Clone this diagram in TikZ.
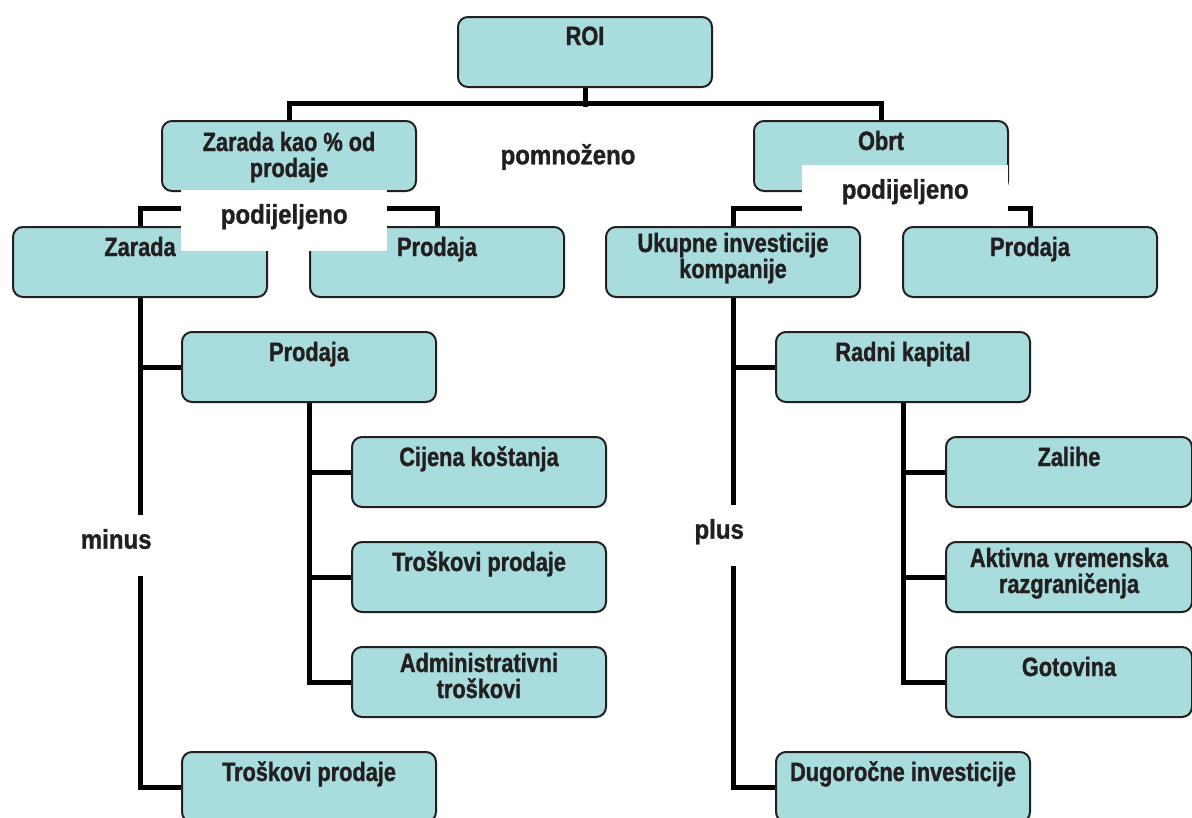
\documentclass[tikz,border=0pt]{standalone}
\usepackage{fontspec}
\setmainfont{Liberation Sans}[FakeStretch=0.82,FakeBold=1.2]
\newfontfamily\opfont{Liberation Sans}[FakeStretch=0.89,FakeBold=1.2]
\pgfdeclarelayer{bg}
\pgfsetlayers{bg,main}
\definecolor{boxfill}{RGB}{169,221,221}
\definecolor{boxline}{RGB}{35,31,32}
\definecolor{txt}{RGB}{35,31,32}
\newcommand{\boxtxt}[3][254pt]{\parbox[t][70pt][t]{#1}{\centering\rule{0pt}{#2}#3}}
\begin{document}
\begin{tikzpicture}[x=1pt,y=-1pt,
  lblfont/.style={font=\bfseries\fontsize{26.5}{26}\selectfont},
  opfnt/.style={font=\opfont\bfseries\fontsize{27}{27}\selectfont},
  box/.style={draw=boxline, fill=boxfill, line width=2pt, rounded corners=10pt,
    inner sep=0pt, anchor=north west, text=txt, lblfont},
  conn/.style={draw=black, line width=5pt},
  op/.style={fill=white, inner sep=0pt, text=txt, opfnt, text height=17pt,
    text depth=11pt, minimum height=61pt, anchor=north west},
  plain/.style={inner sep=0pt, text=txt, opfnt}]
\useasboundingbox (0,0) rectangle (1192,817);
\clip (0,0) rectangle (1192,817);

% boxes
\node[box] (roi) at (457,16) {\boxtxt{28pt}{ROI}};
\node[box] (zk) at (161,120) {\boxtxt{30pt}{Zarada kao \% od\\prodaje}};
\node[box] (obrt) at (753,120) {\boxtxt{29pt}{Obrt}};
\node[box] (zarada) at (12,226) {\boxtxt{29pt}{Zarada}};
\node[box] (prod2) at (309,226) {\boxtxt{29pt}{Prodaja}};
\node[box] (ukupne) at (605,226) {\boxtxt{25pt}{Ukupne investicije\\kompanije}};
\node[box] (prod2r) at (902,226) {\boxtxt{29pt}{Prodaja}};
\node[box] (prod3) at (181,331) {\boxtxt{29pt}{Prodaja}};
\node[box] (radni) at (775,331) {\boxtxt{29pt}{Radni kapital}};
\node[box] (cijena) at (351,436) {\boxtxt{29pt}{Cijena koštanja}};
\node[box] (trosk1) at (351,541) {\boxtxt{29pt}{Troškovi prodaje}};
\node[box] (admin) at (351,646) {\boxtxt{25pt}{Administrativni\\troškovi}};
\node[box] (zalihe) at (945,436) {\boxtxt[246pt]{29pt}{Zalihe}};
\node[box] (aktivna) at (945,541) {\boxtxt[246pt]{25pt}{Aktivna vremenska\\razgraničenja}};
\node[box] (gotovina) at (945,646) {\boxtxt[246pt]{29pt}{Gotovina}};
\node[box] (trosk2) at (181,751) {\boxtxt{29pt}{Troškovi prodaje}};
\node[box] (dugo) at (775,751) {\boxtxt{29pt}{Dugoročne investicije}};

% connectors
\begin{pgfonlayer}{bg}
\fill[white] (0,0) rectangle (1192,817);
\draw[conn] (roi.south) -- ++(0,19);
\draw[conn] (zk.north) -- ++(0,-17) -| (obrt.north);
\draw[conn] (zk.south) -- ++(0,18);
\draw[conn] (zarada.north) -- ++(0,-18) -| (prod2.north);
\draw[conn] (obrt.south) -- ++(0,18);
\draw[conn] (ukupne.north) -- ++(0,-18) -| (prod2r.north);
\draw[conn] (zarada.south) |- (prod3.west);
\draw[conn] (zarada.south) |- (trosk2.west);
\draw[conn] (prod3.south) |- (cijena.west);
\draw[conn] (prod3.south) |- (trosk1.west);
\draw[conn] (prod3.south) |- (admin.west);
\draw[conn] (ukupne.south) |- (radni.west);
\draw[conn] (ukupne.south) |- (dugo.west);
\draw[conn] (radni.south) |- (zalihe.west);
\draw[conn] (radni.south) |- (aktivna.west);
\draw[conn] (radni.south) |- (gotovina.west);
\end{pgfonlayer}

% operation labels
\node[plain] (pomn) at (568,157) {pomnoženo};
\node[op, minimum width=206pt] (podl) at (181,190) {podijeljeno};
\node[op, minimum width=206pt] (podr) at (802,165) {podijeljeno};
\node[op, minimum width=72pt] (minus) at (80,515) {minus};
\node[op, minimum width=52pt] (plus) at (693,505) {plus};
\end{tikzpicture}
\end{document}
